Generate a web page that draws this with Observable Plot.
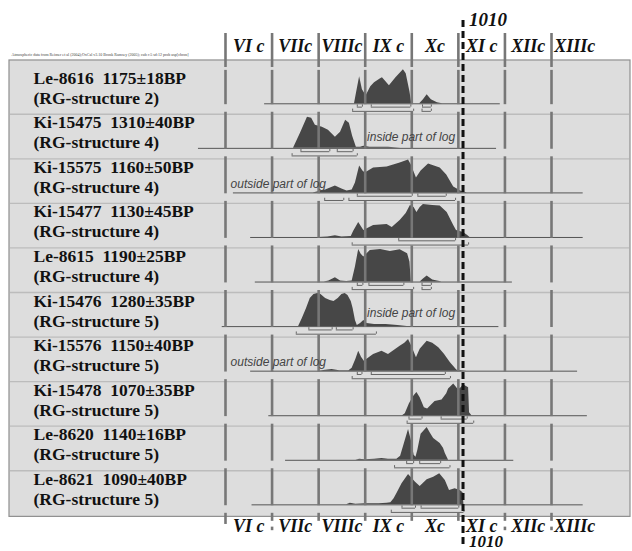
<!DOCTYPE html>
<html><head><meta charset="utf-8">
<script src="https://cdn.jsdelivr.net/npm/d3@7"></script>
<script src="https://cdn.jsdelivr.net/npm/@observablehq/plot@0.6"></script>
<style>
html,body{margin:0;padding:0;background:#fff;overflow:hidden}
#chart svg{display:block}
svg text{white-space:pre}
</style>
</head><body><div id="chart"></div>
<script>
// ---- data ----
const samples = ["Le-8616  1175±18BP","Ki-15475  1310±40BP","Ki-15575  1160±50BP","Ki-15477  1130±45BP","Le-8615  1190±25BP","Ki-15476  1280±35BP","Ki-15576  1150±40BP","Ki-15478  1070±35BP","Le-8620  1140±16BP","Le-8621  1090±40BP"];
const structures = ["(RG-structure 2)","(RG-structure 4)","(RG-structure 4)","(RG-structure 4)","(RG-structure 4)","(RG-structure 5)","(RG-structure 5)","(RG-structure 5)","(RG-structure 5)","(RG-structure 5)"];
const centuries = [500,600,700,800,900,1000,1100,1200];
const centuryLabels = ["VI c","VIIc","VIIIc","IX c","Xc","XI c","XIIc","XIIIc"];
const markerYear = 1010;
const attribution = "Atmospheric data from Reimer et al (2004);OxCal v3.10 Bronk Ramsey (2005); cub r:5 sd:12 prob usp[chron]";

// calendar span of each row's axis line (AD)
const rangeStart = [584, 442, 517, 554, 564, 493, 554, 593, 629, 557];
const rangeEnd   = [1090,1082,1268,1268,1116,1087,1256,1277,1119,1268];

// probability distributions [year AD, relative probability]
const dens_Le8616 = [[777,0],[781,10],[788,27],[794,14],[802,8],[812,17],[820,21],[833,25],[837,26],[852,18],[866,26],[882,34],[888,30],[896,12],[900,0],[917,0],[925,4],[933,9],[942,4],[955,1],[966,0]];
const dens_Ki15475 = [[646,0],[661,15],[676,31],[685,30],[693,23],[708,21],[721,18],[736,11],[747,16],[758,28],[766,25],[773,12],[781,1],[790,1],[797,2],[810,1],[850,1],[876,0]];
const dens_Ki15575 = [[688,0],[715,3],[736,7],[750,4],[761,2],[772,3],[779,10],[788,27],[795,22],[800,20],[818,25],[847,26],[875,30],[893,33],[899,28],[910,15],[920,22],[936,29],[961,25],[975,18],[990,6],[1005,2],[1019,0]];
const dens_Ki15477 = [[700,0],[720,0.5],[736,1.7],[750,0.5],[770,1],[775,6],[786,15],[797,7],[818,12],[847,13],[858,10],[875,17],[888,24],[897,32],[905,30],[911,25],[918,30],[925,33],[945,32],[961,31.6],[976,25],[990,12],[996,7],[1011,5],[1020,2],[1025,0]];
const dens_Le8615 = [[712,0],[722,1],[736,4.3],[747,1],[760,0.5],[772,1],[779,15],[786,32.6],[791,28],[797,25],[811,31.6],[833,32.6],[854,30.6],[875,32.3],[891,28.3],[896,20],[899,0],[918,0],[925,3],[933,6],[945,2],[965,0]];
const dens_Ki15476 = [[657,0],[665,8],[674,18],[682,28],[690,32],[698,33],[705,32],[715,28],[725,26],[733,25],[742,28],[750,32],[757,33],[763,31],[770,25],[774,18],[779,6],[783,1],[790,3],[797,6],[804,3],[820,2],[845,2],[870,1],[890,0]];
const dens_Ki15576 = [[700,0],[715,1],[729,1.7],[745,0.5],[765,0.5],[772,3],[780,12],[786,20],[792,14],[798,10],[818,16.7],[836,20],[850,16.7],[875,25],[885,28],[893,31.7],[900,25],[910,13.4],[918,22],[933,30],[945,28],[958,23.4],[970,17],[983,8.4],[997,1],[1019,0]];
const dens_Ki15478 = [[880,0],[886,2],[895,12],[905,20],[911,23.3],[918,18],[927,8],[934,6.7],[950,14.3],[965,15.7],[975,22],[979,26.7],[990,31.7],[1000,26],[1006,28],[1011,31],[1022,28],[1024,3],[1029,0]];
const dens_Le8620 = [[780,0],[788,1],[800,0.5],[820,1],[836,1.7],[850,1],[868,1],[876,4],[883,15],[893,30.7],[899,20],[905,5],[909,3],[913,10],[920,26],[933,32.7],[940,27],[947,21.7],[961,16.7],[968,12],[972,6.7],[979,0]];
const dens_Le8621 = [[760,0],[768,1.5],[780,0.5],[800,1],[830,1],[847,1.5],[855,2],[862,6],[869,12],[879,21],[893,30.3],[908,22.6],[918,18.3],[933,25],[947,27.6],[960,31],[972,24.3],[981,14.3],[993,16],[1004,14.3],[1010,12],[1012,0]];
const densities = [dens_Le8616,dens_Ki15475,dens_Ki15575,dens_Ki15477,dens_Le8615,dens_Ki15476,dens_Ki15576,dens_Ki15478,dens_Le8620,dens_Le8621];

// 68.2% and 95.4% ranges
const sigma1 = [[[783,794],[813,898],[923,942]],[[662,724],[740,774]],[[783,901],[913,974]],[[872,994]],[[783,795],[808,883],[922,942]],[[679,729],[738,774]],[[783,793],[813,972]],[[894,922],[963,1019]],[[889,904],[917,962]],[[879,908],[920,1001]]];
const sigma2 = [[[773,904],[922,942]],[[643,783]],[[713,754],[765,994]],[[772,1022]],[[772,904],[922,942]],[[652,824]],[[772,983]],[[890,1033]],[[863,982]],[[856,1012]]];

// notes
const noteRows = [1,2,5,6];
const noteTexts = ["inside part of log","outside part of log","inside part of log","outside part of log"];
const noteYears = [804,511,804,511];
const noteLift = [0.173,0.12,0.209,0.112];

// ---- layout helpers (scale space) ----
const xDomain = [16.9, 1373.9];
const yDomain = [-2.318, 10.047];
const k = 1/44.56;
const rows = d3.range(samples.length);
const serif = "'Liberation Serif','Times New Roman',serif";
const sans = "'Liberation Sans',Arial,sans-serif";

const areaData = densities.flatMap((d,i)=>d.map(([yr,p])=>({row:i,year:yr,base:i,top:i-p*k})));
const br1 = sigma1.flatMap((r,i)=>r.map(([a,b])=>({a,b,y:i+0.075})));
const br2 = sigma2.flatMap((r,i)=>r.map(([a,b])=>({a,b,y:i+0.17})));
const brAll = br1.concat(br2);
const brEnds = brAll.flatMap(d=>[{x:d.a,y:d.y},{x:d.b,y:d.y}]);

const segs = [];
centuries.forEach((c,ci)=>{
  segs.push({x:c,y1:-1.578,y2:-0.815});
  segs.push({x:c,y1:-0.75,y2:0.02});
  for(let i=1;i<rows.length;i++) segs.push({x:c,y1:i-0.81,y2:i+0.02});
  segs.push({x:c,y1:9.19,y2: ci===0?9.44:9.37});
  if(c===600||c===1100||c===1200) segs.push({x:c,y1:9.5,y2:9.58});
});

const chart = Plot.plot({
  width:632, height:551, margin:0,
  x:{domain:xDomain, range:[0,632], axis:null},
  y:{domain:yDomain, range:[0,551], axis:null},
  style:{background:"white", overflow:"visible"},
  marks:[
    Plot.rect([0],{x1:()=>xDomain[0],x2:()=>xDomain[1],y1:()=>-0.972,y2:()=>9.27,insetLeft:9,insetRight:2,fill:"#dddddd",stroke:"#8f8f8f",strokeWidth:1.2}),
    Plot.ruleY(rows.slice(0,-1),{y:i=>i+0.235,insetLeft:10,insetRight:3,stroke:"#bcbcbc",strokeWidth:1.3}),
    Plot.ruleY(rows,{x1:i=>rangeStart[i],x2:i=>rangeEnd[i],y:i=>i,stroke:"#555",strokeWidth:1}),
    Plot.areaY(areaData,{x:"year",y1:"base",y2:"top",z:"row",fill:"#474747"}),
    Plot.ruleY(brAll,{x1:"a",x2:"b",y:"y",stroke:"#666",strokeWidth:1}),
    Plot.ruleX(brEnds,{x:"x",y1:"y",y2:d=>d.y-0.05,stroke:"#666",strokeWidth:1}),
    Plot.ruleX(segs,{x:"x",y1:"y1",y2:"y2",stroke:"#777",strokeWidth:2.6}),
    Plot.ruleX([markerYear],{x:d=>d,y1:()=>-1.87,y2:()=>9.96,stroke:"#111",strokeWidth:3,strokeDasharray:"7,4"}),
    Plot.text([attribution],{y:()=>-1.068,text:d=>d,frameAnchor:"left",dx:11,textAnchor:"start",lineAnchor:"bottom",fontSize:4,fontFamily:serif,fill:"#444"}),
    Plot.text(rows,{y:i=>i-0.449,text:i=>samples[i],frameAnchor:"left",dx:33,textAnchor:"start",lineAnchor:"bottom",fontSize:17.5,fontWeight:"bold",fontFamily:serif,fill:"#111"}),
    Plot.text(rows,{y:i=>i,text:i=>structures[i],frameAnchor:"left",dx:33,textAnchor:"start",lineAnchor:"bottom",fontSize:17.5,fontWeight:"bold",fontFamily:serif,fill:"#111"}),
    Plot.text(centuries,{x:c=>c+50,y:()=>-1.158,text:(c,i)=>centuryLabels[i],textAnchor:"middle",lineAnchor:"bottom",fontSize:18,fontWeight:"bold",fontStyle:"italic",fontFamily:serif,fill:"#111"}),
    Plot.text(centuries,{x:c=>c+50,y:()=>9.60,text:(c,i)=>centuryLabels[i],textAnchor:"middle",lineAnchor:"bottom",fontSize:18,fontWeight:"bold",fontStyle:"italic",fontFamily:serif,fill:"#111"}),
    Plot.text([markerYear],{x:d=>d,y:()=>-1.735,text:d=>String(d),dx:6,textAnchor:"start",lineAnchor:"bottom",fontSize:19,fontWeight:"bold",fontStyle:"italic",fontFamily:serif,fill:"#111"}),
    Plot.text([markerYear],{x:d=>d,y:()=>9.946,text:d=>String(d),dx:6,textAnchor:"start",lineAnchor:"bottom",fontSize:17,fontWeight:"bold",fontStyle:"italic",fontFamily:serif,fill:"#111"}),
    Plot.text(noteRows,{x:(r,i)=>noteYears[i],y:(r,i)=>r-noteLift[i],text:(r,i)=>noteTexts[i],textAnchor:"start",lineAnchor:"bottom",fontSize:12,fontStyle:"italic",fontFamily:sans,fill:"#444"})
  ]
});
document.getElementById("chart").appendChild(chart);
</script>
</body></html>
